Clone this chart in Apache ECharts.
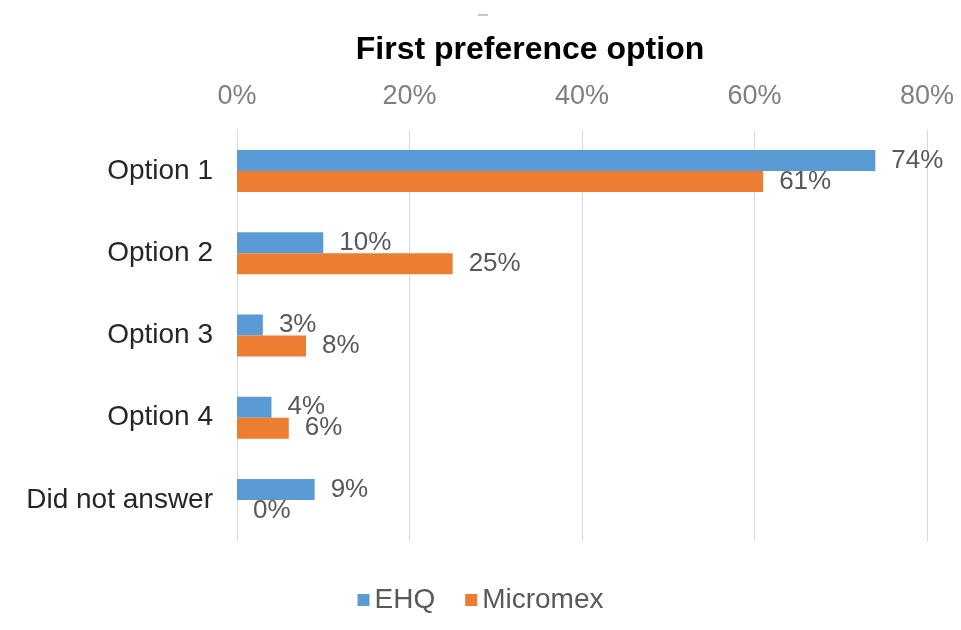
<!DOCTYPE html>
<html>
<head>
<meta charset="utf-8">
<script src="https://cdn.jsdelivr.net/npm/echarts@6/dist/echarts.min.js"></script>
<style>
  html, body { margin: 0; padding: 0; background: #fff; }
  #chart { width: 961px; height: 630px; }
</style>
</head>
<body>
<div id="chart"></div>
<script>
const categories = ['Option 1', 'Option 2', 'Option 3', 'Option 4', 'Did not answer'];
const ehq = [74, 10, 3, 4, 9];
const micromex = [61, 25, 8, 6, 0];
const xTicks = [0, 20, 40, 60, 80];

const font = '"Liberation Sans", Arial, sans-serif';
const myechart = echarts.init(document.getElementById('chart'));

const label = {
  show: true,
  position: 'right',
  distance: 16,
  formatter: '{c}%',
  color: '#595959',
  fontSize: 26,
  fontFamily: font,
};

const option = {
  title: {
    text: 'First preference option',
    left: 525,
    textAlign: 'center',
    top: 29,
    textStyle: { fontSize: 32, fontWeight: 'bold', color: '#000', fontFamily: font },
  },
  graphic: [
    { type: 'rect', left: 478, top: 14, shape: { width: 10, height: 2 }, style: { fill: '#c8c8c8' } },
  ],
  color: ['#5B9BD5', '#ED7D31'],
  legend: {
    bottom: 11,
    left: 'center',
    itemWidth: 12,
    itemHeight: 12,
    itemGap: 30,
    icon: 'rect',
    textStyle: { fontSize: 28, color: '#595959', fontFamily: font },
    data: ['EHQ', 'Micromex'],
  },
  grid: { left: 237, right: 34, top: 130, bottom: 89 },
  xAxis: {
    type: 'value',
    position: 'top',
    min: xTicks[0],
    max: xTicks[xTicks.length - 1],
    interval: 20,
    axisLine: { show: false },
    axisTick: { show: false },
    splitLine: { lineStyle: { color: '#d9d9d9' } },
    axisLabel: { formatter: '{value}%', fontSize: 27, color: '#7f7f7f', margin: 20, fontFamily: font },
  },
  yAxis: {
    type: 'category',
    inverse: true,
    data: categories,
    axisLine: { lineStyle: { color: '#d9d9d9' } },
    axisTick: { show: false },
    axisLabel: { fontSize: 28, color: '#262626', margin: 24, fontFamily: font },
  },
  series: [
    { name: 'EHQ', type: 'bar', data: ehq, barWidth: 21, barGap: 0, label: label },
    { name: 'Micromex', type: 'bar', data: micromex, barWidth: 21, barGap: 0, label: label },
  ],
};

myechart.setOption(option);
</script>
</body>
</html>
